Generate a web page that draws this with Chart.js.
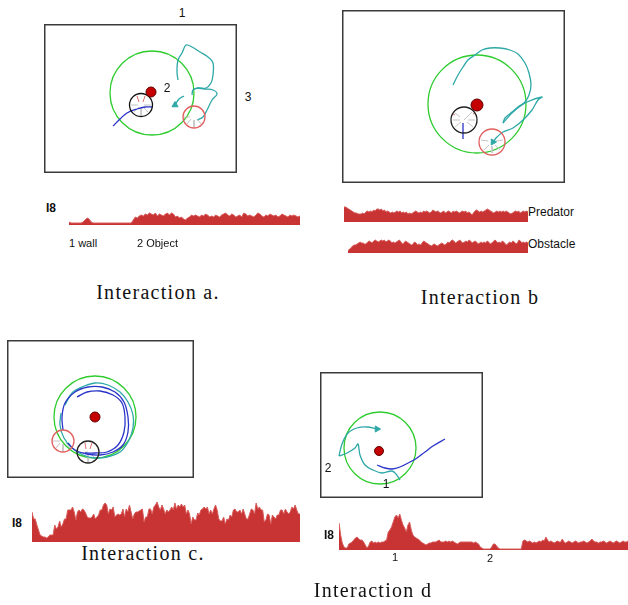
<!DOCTYPE html>
<html>
<head>
<meta charset="utf-8">
<script src="https://cdn.jsdelivr.net/npm/chart.js@4.4.1/dist/chart.umd.min.js"></script>
<style>
  html, body { margin: 0; padding: 0; background: #fff; }
  #fig { position: relative; width: 628px; height: 605px; overflow: hidden; background: #fff; }
  #fig canvas { position: absolute; }
  .lbl { position: absolute; white-space: nowrap; font-family: "Liberation Sans", Arial, sans-serif; color: #111; line-height: 1; }
  .cap { position: absolute; white-space: nowrap; font-family: "Liberation Serif", serif; font-size: 20px; letter-spacing: 1.3px; color: #111; line-height: 1; transform: translate(-50%, -50%); }
</style>
</head>
<body>
<div id="fig"></div>
<script>
// ---- activity traces (heights, left to right) ----
const traceA = [3,2,2,2,2,2,2,3,5,7,6,3,2,
  2,2,2,2,2,2,2,2,2,2,2,2,2,2,2,2,2,2,2,
  5,8,7,9,10,9,11,10,12,11,10,12,9,11,10,9,11,12,10,12,11,8,9,7,8,6,5,7,8,10,
  9,10,9,8,10,9,11,10,8,9,8,10,9,8,10,11,12,10,9,11,10,8,9,10,8,12,11,9,10,9,
  8,10,12,11,9,8,10,9,11,10,9,10,8,9,11,10,9,8,10,9,10,9,8,9];

const tracePredator = [15,15,14,13,12,11,10,9,9,8,8,8,9,8,10,11,10,11,10,12,11,13,13,12,13,11,12,10,
  11,10,9,10,9,10,11,10,11,9,10,9,10,8,9,8,9,10,11,10,9,10,9,11,10,11,10,9,10,12,11,10,11,10,9,10,
  11,9,10,11,10,9,11,10,11,10,9,10,11,10,11,9,10,9,7,9,11,12,11,10,11,10,11,12,13,12,11,10,9,10,11,
  10,11,10,11,10,11,10,9,8,9,10,11,10,11,9,10,11,10,11,10];

const traceObstacle = [2,4,5,7,8,8,9,10,11,10,10,9,9,11,12,11,10,12,13,12,11,12,13,12,13,11,12,13,12,
  10,11,10,11,12,13,11,9,10,12,11,10,9,8,9,11,10,8,9,8,10,12,11,10,9,8,7,8,9,8,7,8,9,10,9,8,9,11,10,
  12,13,12,10,11,12,13,11,10,11,12,11,13,12,10,11,12,11,9,10,11,10,11,10,12,11,9,10,11,13,12,10,11,
  10,12,11,9,8,10,11,10,12,11,9,10,13,12,10,11,10,11,10];

const traceC = [30,23,23,17,12,7,6,5,5,4,5,7,7,7,17,13,15,21,15,18,23,23,32,32,32,35,30,22,30,32,
  30,33,32,29,25,24,24,25,28,23,25,27,32,32,37,39,37,28,33,32,35,25,27,28,27,28,33,25,33,30,
  37,30,23,28,30,30,31,32,33,20,25,25,33,33,28,35,37,40,35,32,37,33,28,32,
  30,32,35,32,39,33,37,35,38,35,37,28,32,28,18,25,22,22,29,27,32,33,35,33,35,28,32,28,33,37,
  32,23,21,21,25,18,23,22,27,25,32,33,30,30,32,28,33,28,23,23,28,33,32,28,39,33,35,32,32,20,
  22,28,27,18,27,25,23,27,27,32,32,28,33,30,28,30,35,33,37,32,28,28];

const traceD = [27,15,7,3,2,2,6,7,8,10,12,13,11,10,10,8,5,2,4,8,9,7,8,7,8,7,8,8,9,10,
  18,20,23,28,33,35,32,36,30,25,22,18,25,28,20,15,13,12,11,10,8,7,6,5,6,7,7,8,8,8,
  9,10,8,8,8,9,8,9,8,9,8,7,6,7,8,8,8,8,8,8,8,8,7,8,7,6,3,2,1,1,
  1,1,1,3,6,6,4,2,1,1,1,1,1,1,1,1,1,1,1,1,1,1,
  9,10,9,8,9,8,7,8,7,8,9,8,10,9,13,10,8,9,8,7,8,9,8,8,11,8,7,8,9,8,
  7,8,9,8,7,8,8,9,8,7,8,9,11,9,8,8,7,8,8,9,8,7,8,9,8,7,8,9,8,7,8,9,8,8,9];

// ---- arena panels (units = px inside each frame, y down; y:null breaks a line) ----
const aFood = [{x:107,y:68}];
const aGoal = [{x:108,y:69}];
const aRobot = [{x:97,y:81}];
const aOther = [{x:150,y:93}];
const aSpokes = [{x:97,y:84},{x:97,y:91},{x:97,y:null},{x:95,y:83},{x:90,y:88},{x:90,y:null},
  {x:99,y:83},{x:104,y:88},{x:104,y:null},{x:100,y:81},{x:107,y:81},{x:107,y:null},{x:94,y:81},{x:87,y:81},{x:87,y:null},
  {x:150,y:96},{x:150,y:103},{x:150,y:null},{x:147,y:95},{x:143,y:100},{x:143,y:null},
  {x:153,y:95},{x:157,y:100},{x:157,y:null},{x:146,y:93},{x:140,y:93}];
const aTicks = [{x:95,y:78},{x:93,y:72},{x:93,y:null},{x:99,y:78},{x:101,y:72}];
const aBlue = [{x:69,y:102},{x:76,y:95},{x:83,y:89},{x:93,y:85},{x:101,y:83},{x:108,y:83}];
const aCyan1 = [{x:134,y:56},{x:133,y:48},{x:134,y:36},{x:138,y:29},{x:142,y:21},{x:148,y:23},{x:156,y:28},
  {x:164,y:33},{x:169,y:39},{x:169,y:51},{x:167,y:59},{x:162,y:64},{x:154,y:64},{x:149,y:66},{x:148,y:71}];
const aCyan2 = [{x:153,y:64},{x:161,y:65},{x:169,y:66},{x:173,y:70},{x:168,y:76},{x:163,y:86},{x:159,y:93},{x:153,y:96}];
const aCyan3 = [{x:131,y:81},{x:135,y:75},{x:140,y:72}];

const bFood = [{x:135,y:95}];
const bGoal = [{x:135,y:94}];
const bRobot = [{x:122,y:110}];
const bOther = [{x:150,y:132}];
const bSpokes = [{x:122,y:110},{x:130,y:102},{x:130,y:null},{x:119,y:112},{x:113,y:117},{x:113,y:null},
  {x:125,y:112},{x:131,y:117},{x:131,y:null},{x:118,y:110},{x:111,y:110},{x:111,y:null},
  {x:126,y:110},{x:133,y:110},{x:133,y:null},{x:118,y:107},{x:113,y:103},{x:113,y:null},
  {x:147,y:135},{x:142,y:140},{x:142,y:null},{x:150,y:136},{x:150,y:143},{x:150,y:null},
  {x:153,y:135},{x:158,y:140},{x:158,y:null},{x:146,y:131},{x:139,y:130},{x:139,y:null},{x:154,y:131},{x:161,y:130}];
const bTicks = [{x:113,y:105},{x:111,y:104},{x:111,y:null},{x:131,y:104},{x:133,y:103}];
const bBlue = [{x:121,y:113},{x:121,y:121},{x:121,y:129}];
const bCyan1 = [{x:111,y:75},{x:116,y:65},{x:121,y:57},{x:126,y:50},{x:133,y:45},{x:140,y:40},{x:148,y:38},
  {x:158,y:38},{x:168,y:40},{x:176,y:44},{x:183,y:53},{x:187,y:63},{x:189,y:75},{x:187,y:85},{x:183,y:92},
  {x:176,y:97},{x:170,y:102},{x:163,y:108},{x:161,y:113}];
const bCyan2 = [{x:161,y:113},{x:171,y:102},{x:185,y:92},{x:200,y:87},{x:196,y:90},{x:190,y:100},{x:181,y:110},
  {x:171,y:118},{x:161,y:122},{x:155,y:127},{x:151,y:132}];

const cFood = [{x:88,y:77}];
const cGoal = [{x:88,y:77}];
const cRobot = [{x:81,y:112}];
const cOther = [{x:56,y:101}];
const cSpokes = [{x:70,y:113},{x:81,y:112},{x:81,y:null},{x:81,y:115},{x:81,y:122},{x:81,y:null},
  {x:84,y:114},{x:89,y:119},{x:89,y:null},
  {x:56,y:104},{x:56,y:111},{x:56,y:null},{x:53,y:103},{x:49,y:108},{x:49,y:null},
  {x:59,y:103},{x:63,y:108},{x:63,y:null},{x:53,y:101},{x:46,y:101}];
const cTicks = [{x:79,y:109},{x:78,y:103},{x:78,y:null},{x:83,y:109},{x:85,y:103}];
const cCyan = [{x:58,y:65},{x:65,y:53},{x:75,y:47},{x:88,y:43},{x:101,y:45},{x:113,y:52},{x:121,y:62},{x:126,y:75},
  {x:126,y:88},{x:121,y:102},{x:113,y:112},{x:100,y:117},{x:88,y:118},{x:76,y:115},{x:65,y:108},{x:57,y:98},
  {x:53,y:85},{x:54,y:73}];
const cBlue1 = [{x:56,y:90},{x:55,y:77},{x:58,y:63},{x:68,y:52},{x:81,y:47},{x:95,y:47},{x:108,y:52},{x:117,y:62},
  {x:121,y:77},{x:121,y:92},{x:116,y:105},{x:106,y:112},{x:93,y:115},{x:80,y:114},{x:68,y:110},{x:61,y:103}];
const cBlue2 = [{x:70,y:57},{x:80,y:52},{x:93,y:51},{x:106,y:55},{x:115,y:63},{x:118,y:77},{x:117,y:92},
  {x:111,y:105},{x:100,y:112},{x:88,y:113},{x:78,y:113}];

const dFood = [{x:59,y:79}];
const dGoal = [{x:60,y:76}];
const dBlue = [{x:57,y:93},{x:65,y:96},{x:72,y:97},{x:80,y:95},{x:90,y:90},{x:97,y:86},{x:105,y:80},{x:113,y:74},{x:125,y:67}];
const dCyan1 = [{x:57,y:57},{x:47,y:55},{x:37,y:56},{x:28,y:61},{x:22,y:72},{x:19,y:84}];
const dCyan2 = [{x:19,y:84},{x:27,y:81},{x:35,y:76},{x:38,y:72},{x:40,y:83},{x:45,y:93},{x:53,y:98},{x:62,y:101},
  {x:72,y:99},{x:76,y:102},{x:80,y:108}];

const fig = document.getElementById('fig');
const GREEN = '#2ecc2e', TEAL = '#2fa8a8', BLUE = '#2a34c8', RED = '#c83434';

const frame = {
  id: 'frame',
  afterDraw(chart) {
    const { ctx, chartArea: a } = chart;
    ctx.save();
    ctx.strokeStyle = '#3a3a3a';
    ctx.lineWidth = 1.5;
    ctx.strokeRect(a.left + 0.75, a.top + 0.75, a.right - a.left - 1.5, a.bottom - a.top - 1.5);
    ctx.restore();
  }
};

function addCanvas(left, top, w, h) {
  const c = document.createElement('canvas');
  c.width = w; c.height = h;
  c.style.left = left + 'px'; c.style.top = top + 'px';
  c.style.width = w + 'px'; c.style.height = h + 'px';
  fig.appendChild(c);
  return c;
}

const ring = (pts, r, color) => ({ data: pts, pointRadius: r, pointHoverRadius: r, pointBorderColor: color,
  pointBackgroundColor: 'rgba(0,0,0,0)', pointBorderWidth: 1.3 });
const dot = (pts, r) => ({ data: pts, pointRadius: r, pointHoverRadius: r, pointBackgroundColor: '#c40000',
  pointBorderColor: '#600000', pointBorderWidth: 1 });
const path = (pts, color) => ({ data: pts, showLine: true, pointRadius: 0, borderColor: color, borderWidth: 1.3,
  tension: 0.35, fill: false });
const spokes = (pts, color) => ({ data: pts, showLine: true, spanGaps: false, pointRadius: 0, borderColor: color,
  borderWidth: 1, tension: 0, fill: false });
const head = (pts, color, rot) => ({ data: [pts[0]], pointStyle: 'triangle', pointRadius: 3.5, pointRotation: rot,
  pointBackgroundColor: color, pointBorderColor: color });

function panel(left, top, w, h, datasets) {
  const c = addCanvas(left, top, w, h);
  return new Chart(c, {
    type: 'scatter',
    data: { datasets },
    options: {
      responsive: false, animation: false,
      layout: { padding: 0, autoPadding: false },
      plugins: { legend: { display: false }, tooltip: { enabled: false } },
      scales: {
        x: { type: 'linear', min: 0, max: w, display: false },
        y: { type: 'linear', min: 0, max: h, reverse: true, display: false }
      }
    },
    plugins: [frame]
  });
}

function trace(values, left, baseline, w, h) {
  const c = addCanvas(left, baseline - h, w, h);
  return new Chart(c, {
    type: 'line',
    data: {
      labels: values.map((_, i) => i),
      datasets: [{ data: values, fill: 'origin', backgroundColor: RED, borderColor: '#d85a5a',
        borderWidth: 1, pointRadius: 0, tension: 0 }]
    },
    options: {
      responsive: false, animation: false,
      layout: { padding: 0, autoPadding: false },
      plugins: { legend: { display: false }, tooltip: { enabled: false } },
      scales: {
        x: { display: false, offset: false },
        y: { min: 0, max: h, display: false }
      }
    }
  });
}

function label(text, x, y, size, opts = {}) {
  const d = document.createElement('div');
  d.className = opts.cap ? 'cap' : 'lbl';
  d.textContent = text;
  d.style.left = x + 'px'; d.style.top = y + 'px';
  if (!opts.cap) {
    d.style.fontSize = size + 'px';
    d.style.transform = opts.left ? 'translate(0,-50%)' : 'translate(-50%,-50%)';
    if (opts.bold) d.style.fontWeight = 'bold';
  }
  fig.appendChild(d);
}

// panel a
panel(44, 24, 193, 149, [
  dot(aFood, 5),
  ring(aRobot, 11.5, '#111'),
  ring(aOther, 11, '#e06060'),
  path(aBlue, BLUE),
  spokes(aTicks, '#e07070'),
  spokes(aSpokes, '#c4c4c4'),
  head(aCyan3, TEAL, -120),
  path(aCyan3, TEAL),
  path(aCyan1, TEAL),
  path(aCyan2, TEAL),
  ring(aGoal, 42, GREEN)
]);
// panel b
panel(342, 10, 223, 173, [
  dot(bFood, 6),
  ring(bRobot, 13, '#222'),
  ring(bOther, 13, '#e06060'),
  path(bBlue, BLUE),
  head([bCyan2[bCyan2.length - 1]], TEAL, -150),
  path(bCyan1, TEAL),
  path(bCyan2, TEAL),
  spokes(bTicks, '#e07070'),
  spokes(bSpokes, '#c4c4c4'),
  ring(bGoal, 49, GREEN)
]);
// panel c
panel(7, 340, 187, 138, [
  dot(cFood, 5),
  ring(cRobot, 11, '#222'),
  ring(cOther, 11, '#e06060'),
  path(cBlue2, BLUE),
  path(cBlue1, BLUE),
  path(cCyan, TEAL),
  spokes(cTicks, '#e07070'),
  spokes(cSpokes, '#c4c4c4'),
  ring(cGoal, 41, GREEN)
]);
// panel d
panel(320, 372, 163, 126, [
  dot(dFood, 4.5),
  path(dBlue, BLUE),
  head(dCyan1, TEAL, 90),
  path(dCyan1, TEAL),
  path(dCyan2, TEAL),
  ring(dGoal, 36, GREEN)
]);

// traces
trace(traceA, 69, 225, 231, 16);
trace(tracePredator, 344, 222, 184, 17);
trace(traceObstacle, 348, 253, 180, 15);
trace(traceC, 32, 542, 268, 42);
trace(traceD, 339, 550, 289, 38);

// text
label('1', 182, 13, 12);
label('3', 248, 97, 12);
label('2', 167, 88, 12);
label('I8', 51, 208, 12, { bold: true });
label('1 wall', 69, 243, 11, { left: true });
label('2 Object', 137, 243, 11, { left: true });
label('Predator', 528, 212, 12, { left: true });
label('Obstacle', 528, 244, 12, { left: true });
label('I8', 17, 523, 12, { bold: true });
label('2', 328, 468, 12);
label('1', 386, 484, 12);
label('I8', 329, 535, 12, { bold: true });
label('1', 395, 557, 11);
label('2', 490, 558, 11);
label('Interaction a.', 158, 292, 0, { cap: true });
label('Interaction b', 480, 297, 0, { cap: true });
label('Interaction c.', 143, 553, 0, { cap: true });
label('Interaction d', 373, 590, 0, { cap: true });
</script>
</body>
</html>
